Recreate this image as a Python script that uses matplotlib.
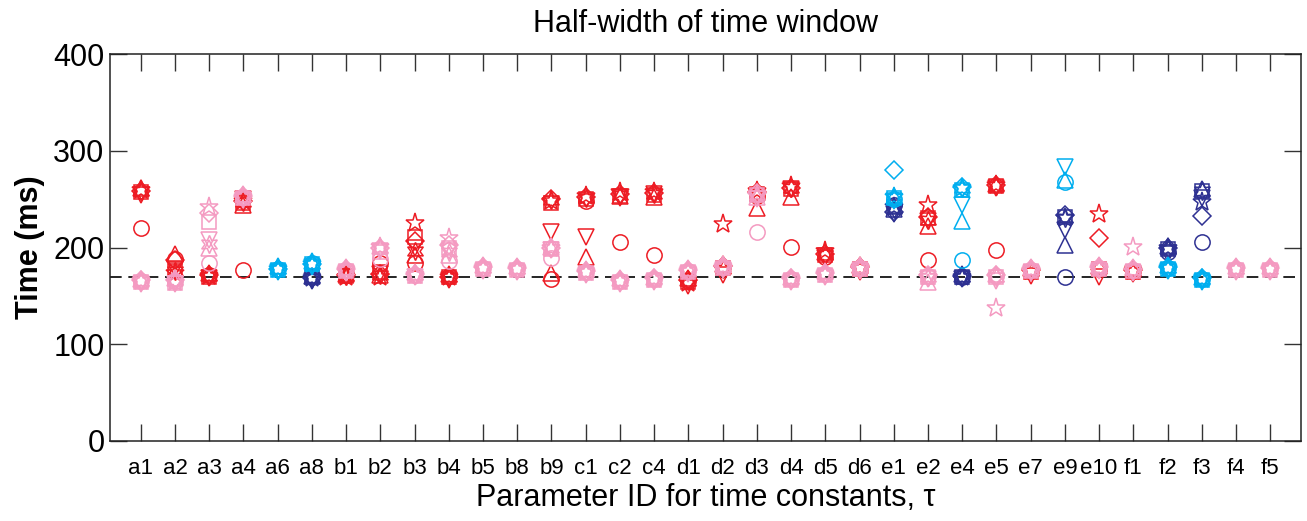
import numpy as np
import matplotlib
matplotlib.use("Agg")
from matplotlib import pyplot as plt

plt.rcParams['font.family'] = ['Liberation Sans', 'DejaVu Sans']

ids = ['a1', 'a2', 'a3', 'a4', 'a6', 'a8', 'b1', 'b2', 'b3', 'b4', 'b5', 'b8', 'b9',
       'c1', 'c2', 'c4', 'd1', 'd2', 'd3', 'd4', 'd5', 'd6', 'e1', 'e2', 'e4', 'e5',
       'e7', 'e9', 'e10', 'f1', 'f2', 'f3', 'f4', 'f5']

# value order in every list: circle, square, diamond, tri-up, tri-down, pentagram, hexagram
marks = ['o', 's', 'D', '^', 'v', '*', 'hex']

red = {
    'a1': [220, 257, 258, 262, 254, 259, 258],
    'a2': [188, 176, 187, 193, 178, 174, 176],
    'a3': [172, 170, 172, 174, 168, 171, 171],
    'a4': [177, 246, 248, 244, 250, 248, 247],
    'b1': [172, 171, 172, 173, 169, 170, 171],
    'b2': [184, 175, 173, 172, 173, 170, 172],
    'b3': [184, 211, 207, 192, 199, 225, 196],
    'b4': [171, 170, 170, 173, 166, 169, 170],
    'b9': [167, 246, 250, 174, 216, 248, 249],
    'c1': [248, 250, 252, 190, 211, 253, 251],
    'c2': [206, 253, 255, 253, 251, 257, 254],
    'c4': [192, 254, 256, 252, 255, 257, 255],
    'd1': [165, 164, 166, 168, 160, 163, 165],
    'd2': [180, 179, 181, 183, 172, 224, 178],
    'd3': [253, 255, 257, 241, 252, 258, 254],
    'd4': [201, 260, 262, 252, 260, 264, 261],
    'd5': [190, 192, 193, 195, 189, 196, 192],
    'd6': [179, 178, 180, 182, 175, 179, 179],
    'e2': [187, 230, 232, 222, 227, 244, 228],
    'e5': [197, 264, 265, 266, 262, 265, 264],
    'e7': [176, 175, 177, 179, 171, 176, 176],
    'e10': [178, 178, 210, 181, 170, 235, 179],
    'f1': [176, 175, 177, 178, 173, 176, 176],
}

pink = {
    'a1': [165, 164, 166, 167, 162, 165, 165],
    'a2': [165, 163, 166, 168, 162, 164, 166],
    'a3': [184, 226, 236, 200, 208, 242, 204],
    'a4': [252, 251, 253, 255, 249, 252, 252],
    'b1': [177, 176, 178, 180, 174, 177, 177],
    'b2': [188, 195, 200, 202, 196, 201, 199],
    'b3': [172, 171, 173, 175, 169, 172, 172],
    'b4': [186, 200, 203, 192, 196, 210, 195],
    'b5': [179, 178, 180, 182, 176, 179, 179],
    'b8': [178, 177, 179, 181, 175, 178, 178],
    'b9': [189, 198, 200, 201, 197, 199, 199],
    'c1': [175, 174, 176, 178, 172, 175, 175],
    'c2': [165, 164, 166, 168, 162, 165, 165],
    'c4': [167, 166, 168, 170, 164, 167, 167],
    'd1': [176, 175, 177, 179, 173, 176, 176],
    'd2': [180, 179, 181, 183, 177, 180, 180],
    'd3': [216, 254, 256, 252, 250, 255, 254],
    'd4': [167, 166, 168, 170, 164, 167, 167],
    'd5': [173, 172, 174, 176, 170, 173, 173],
    'd6': [179, 178, 180, 182, 176, 179, 179],
    'e2': [171, 170, 172, 164, 167, 170, 170],
    'e5': [171, 170, 172, 173, 165, 137, 170],
    'e7': [177, 176, 178, 180, 174, 177, 177],
    'e10': [179, 178, 180, 182, 176, 179, 179],
    'f1': [177, 176, 178, 180, 174, 201, 177],
    'f4': [178, 177, 179, 181, 175, 178, 178],
    'f5': [178, 177, 179, 181, 175, 178, 178],
}

navy = {
    'a8': [170, 169, 168, 171, 165, 168, 168],
    'e1': [244, 242, 237, 240, 235, 242, 240],
    'e4': [170, 169, 171, 173, 167, 170, 170],
    'e9': [170, 232, 234, 203, 218, 231, 230],
    'f2': [195, 198, 200, 202, 193, 199, 198],
    'f3': [206, 258, 233, 260, 251, 247, 258],
}

blue = {
    'a6': [178, 177, 178, 181, 175, 178, 178],
    'a8': [184, 183, 183, 186, 180, 183, 183],
    'e1': [250, 251, 280, 253, 248, 252, 251],
    'e4': [187, 259, 263, 227, 244, 262, 262],
    'e9': [268, None, None, 270, 283, None, None],
    'f2': [179, 178, 180, 182, 176, 179, 179],
    'f3': [167, 166, 168, 170, 164, 167, 167],
}

groups = [(red, '#ED1C24'), (pink, '#F49AC1'), (navy, '#2E3192'), (blue, '#00AEEF')]
sizes = {'o': 11, 's': 10, 'D': 9, '^': 11, 'v': 11, '*': 14, 'hex': 13}

fig = plt.figure(figsize=(13.07, 5.21), dpi=100)
ax = fig.add_axes([110 / 1307, 80 / 521, 1191 / 1307, 387 / 521])

ax.axhline(170, color='black', lw=1.2, ls=(0, (7, 4)), zorder=1)

for table, col in groups:
    for k, name in enumerate(ids):
        if name not in table:
            continue
        for m, v in zip(marks, table[name]):
            if v is None:
                continue
            mk = (6, 1, 0) if m == 'hex' else m
            ax.plot(k + 1, v, marker=mk, ms=sizes[m], mfc='none', mec=col, mew=1.1,
                    ls='none', zorder=3)

ax.set_xlim(0.1, 34.9)
ax.set_ylim(0, 400)
ax.set_xticks(np.arange(1, len(ids) + 1))
ax.set_xticklabels(ids, fontsize=16)
ax.set_yticks([0, 100, 200, 300, 400])
ax.tick_params(axis='y', labelsize=22, pad=4)
ax.tick_params(direction='in', length=12, width=1.0, color='#333333', top=True, right=True)
ax.tick_params(axis='x', pad=12)
for s in ax.spines.values():
    s.set_linewidth(1.1)
    s.set_color('#222222')

ax.set_ylabel('Time (ms)', fontsize=22, fontweight='bold', labelpad=6)
ax.set_xlabel('Parameter ID for time constants, τ', fontsize=22, labelpad=3)
ax.set_title('Half-width of time window', fontsize=22, pad=16)

fig.savefig('out.png', dpi=100)
